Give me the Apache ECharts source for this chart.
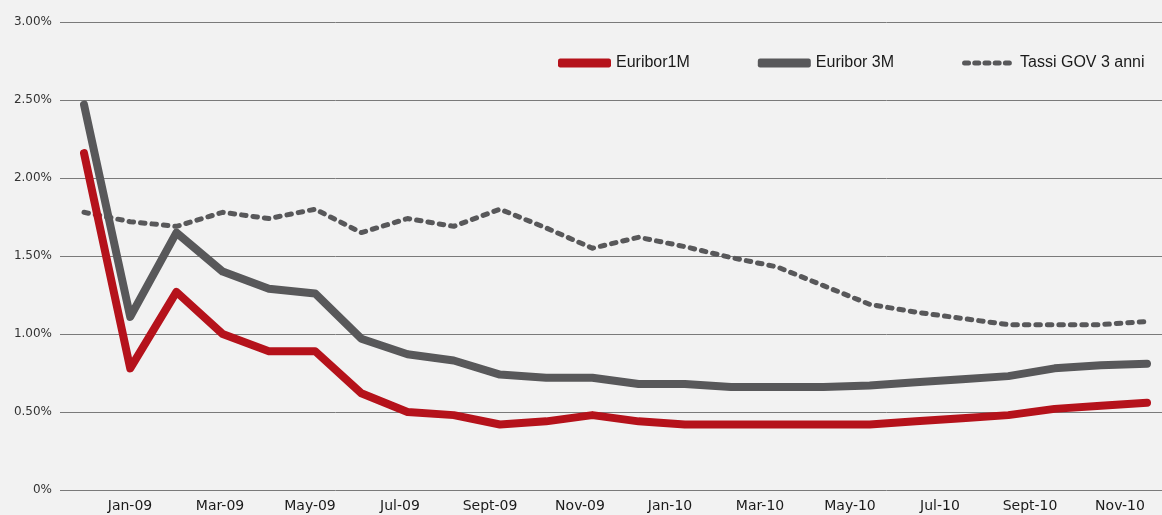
<!DOCTYPE html>
<html>
<head>
<meta charset="utf-8">
<script src="https://cdn.jsdelivr.net/npm/echarts@6/dist/echarts.min.js"></script>
<style>
html, body { margin: 0; padding: 0; background: #f2f2f2; }
#TassiChart { width: 1162px; height: 515px; }
</style>
</head>
<body>
<div id="TassiChart"></div>
<script>
// mesi dei dati (Dec-08 .. Nov-10)
var mesi = ['Dec-08','Jan-09','Feb-09','Mar-09','Apr-09','May-09','Jun-09','Jul-09','Aug-09','Sept-09','Oct-09','Nov-09',
    'Dec-09','Jan-10','Feb-10','Mar-10','Apr-10','May-10','Jun-10','Jul-10','Aug-10','Sept-10','Oct-10','Nov-10'];
// etichette asse x
var etichette = ['Jan-09','Feb-09','Mar-09','Apr-09','May-09','Jun-09','Jul-09','Aug-09','Sept-09','Oct-09','Nov-09',
    'Dec-09','Jan-10','Feb-10','Mar-10','Apr-10','May-10','Jun-10','Jul-10','Aug-10','Sept-10','Oct-10','Nov-10'];
var tickY = [0, 0.5, 1, 1.5, 2, 2.5, 3];

var euribor1M = [2.16,0.78,1.27,1.00,0.89,0.89,0.62,0.50,0.48,0.42,0.44,0.48,
    0.44,0.42,0.42,0.42,0.42,0.42,0.44,0.46,0.48,0.52,0.54,0.56];
var euribor3M = [2.47,1.11,1.65,1.40,1.29,1.26,0.97,0.87,0.83,0.74,0.72,0.72,
    0.68,0.68,0.66,0.66,0.66,0.67,0.69,0.71,0.73,0.78,0.80,0.81];
var tassiGov3 = [1.78,1.72,1.69,1.78,1.74,1.80,1.65,1.74,1.69,1.80,1.68,1.55,
    1.62,1.56,1.49,1.43,1.31,1.19,1.14,1.10,1.06,1.06,1.06,1.08];

var rosso = '#b5121b';
var grigio = '#58585a';

// icona tratteggiata per la legenda (5 trattini arrotondati)
var iconaTratteggio = 'path://M0,0L0,0M53,9L53,9';
for (var i = 0; i < 5; i++) {
    var x0 = i * 10.2;
    iconaTratteggio += 'M' + (x0 + 2.5) + ',2h4a2.5,2.5 0 0 1 0,5h-4a2.5,2.5 0 0 1 0,-5z';
}

var TassiChart = echarts.init(document.getElementById('TassiChart'));
option = {
    backgroundColor: '#f2f2f2',
    animation: false,
    legend: {
        left: 553,
        top: 50,
        itemWidth: 53,
        itemHeight: 9,
        itemGap: 68,
        itemStyle: {borderWidth: 0},
        textStyle: {
            fontFamily: 'Liberation Sans',
            fontSize: 16,
            color: '#1a1a1a',
            padding: [6, 0, 0, 0]
        },
        data: [
            {name: 'Euribor1M', icon: 'roundRect'},
            {name: 'Euribor 3M', icon: 'roundRect'},
            {name: 'Tassi GOV 3 anni', icon: iconaTratteggio}
        ]
    },
    grid: [
        // griglia e asse y
        {left: 60, right: 0, top: 22, bottom: 25},
        // etichette mesi
        {left: 130, width: 990, top: 22, bottom: 25},
        // linee
        {left: 84, right: 15, top: 22, bottom: 25}
    ],
    xAxis: [
        {gridIndex: 0, type: 'category', data: mesi, show: false},
        {
            gridIndex: 1,
            type: 'category',
            data: etichette,
            boundaryGap: false,
            axisLine: {show: false},
            axisTick: {show: false},
            axisLabel: {
                interval: 1,
                margin: 9,
                fontFamily: 'DejaVu Sans',
                fontSize: 14,
                color: '#1a1a1a'
            }
        },
        {gridIndex: 2, type: 'category', data: mesi, boundaryGap: false, show: false}
    ],
    yAxis: [
        {
            gridIndex: 0,
            type: 'value',
            min: tickY[0],
            max: tickY[tickY.length - 1],
            interval: 0.5,
            axisLine: {show: false},
            axisTick: {show: false},
            axisLabel: {
                margin: 8,
                fontFamily: 'DejaVu Sans',
                fontSize: 12,
                color: '#333',
                formatter: function (v) {
                    return v === 0 ? '0%' : v.toFixed(2) + '%';
                }
            },
            splitLine: {lineStyle: {color: '#7a7a7a', width: 1}}
        },
        {gridIndex: 1, type: 'value', min: 0, max: 3, show: false},
        {gridIndex: 2, type: 'value', min: 0, max: 3, show: false}
    ],
    series: [
        {
            name: 'Euribor1M',
            type: 'line',
            xAxisIndex: 2,
            yAxisIndex: 2,
            data: euribor1M,
            symbol: 'none',
            color: rosso,
            lineStyle: {color: rosso, width: 8, cap: 'round', join: 'round'},
            z: 4
        },
        {
            name: 'Euribor 3M',
            type: 'line',
            xAxisIndex: 2,
            yAxisIndex: 2,
            data: euribor3M,
            symbol: 'none',
            color: grigio,
            lineStyle: {color: grigio, width: 8, cap: 'round', join: 'round'},
            z: 3
        },
        {
            name: 'Tassi GOV 3 anni',
            type: 'line',
            xAxisIndex: 2,
            yAxisIndex: 2,
            data: tassiGov3,
            symbol: 'none',
            color: grigio,
            lineStyle: {color: grigio, width: 5, type: [4.5, 7], cap: 'round', join: 'round'},
            z: 2
        }
    ]
};
TassiChart.setOption(option);
</script>
</body>
</html>
